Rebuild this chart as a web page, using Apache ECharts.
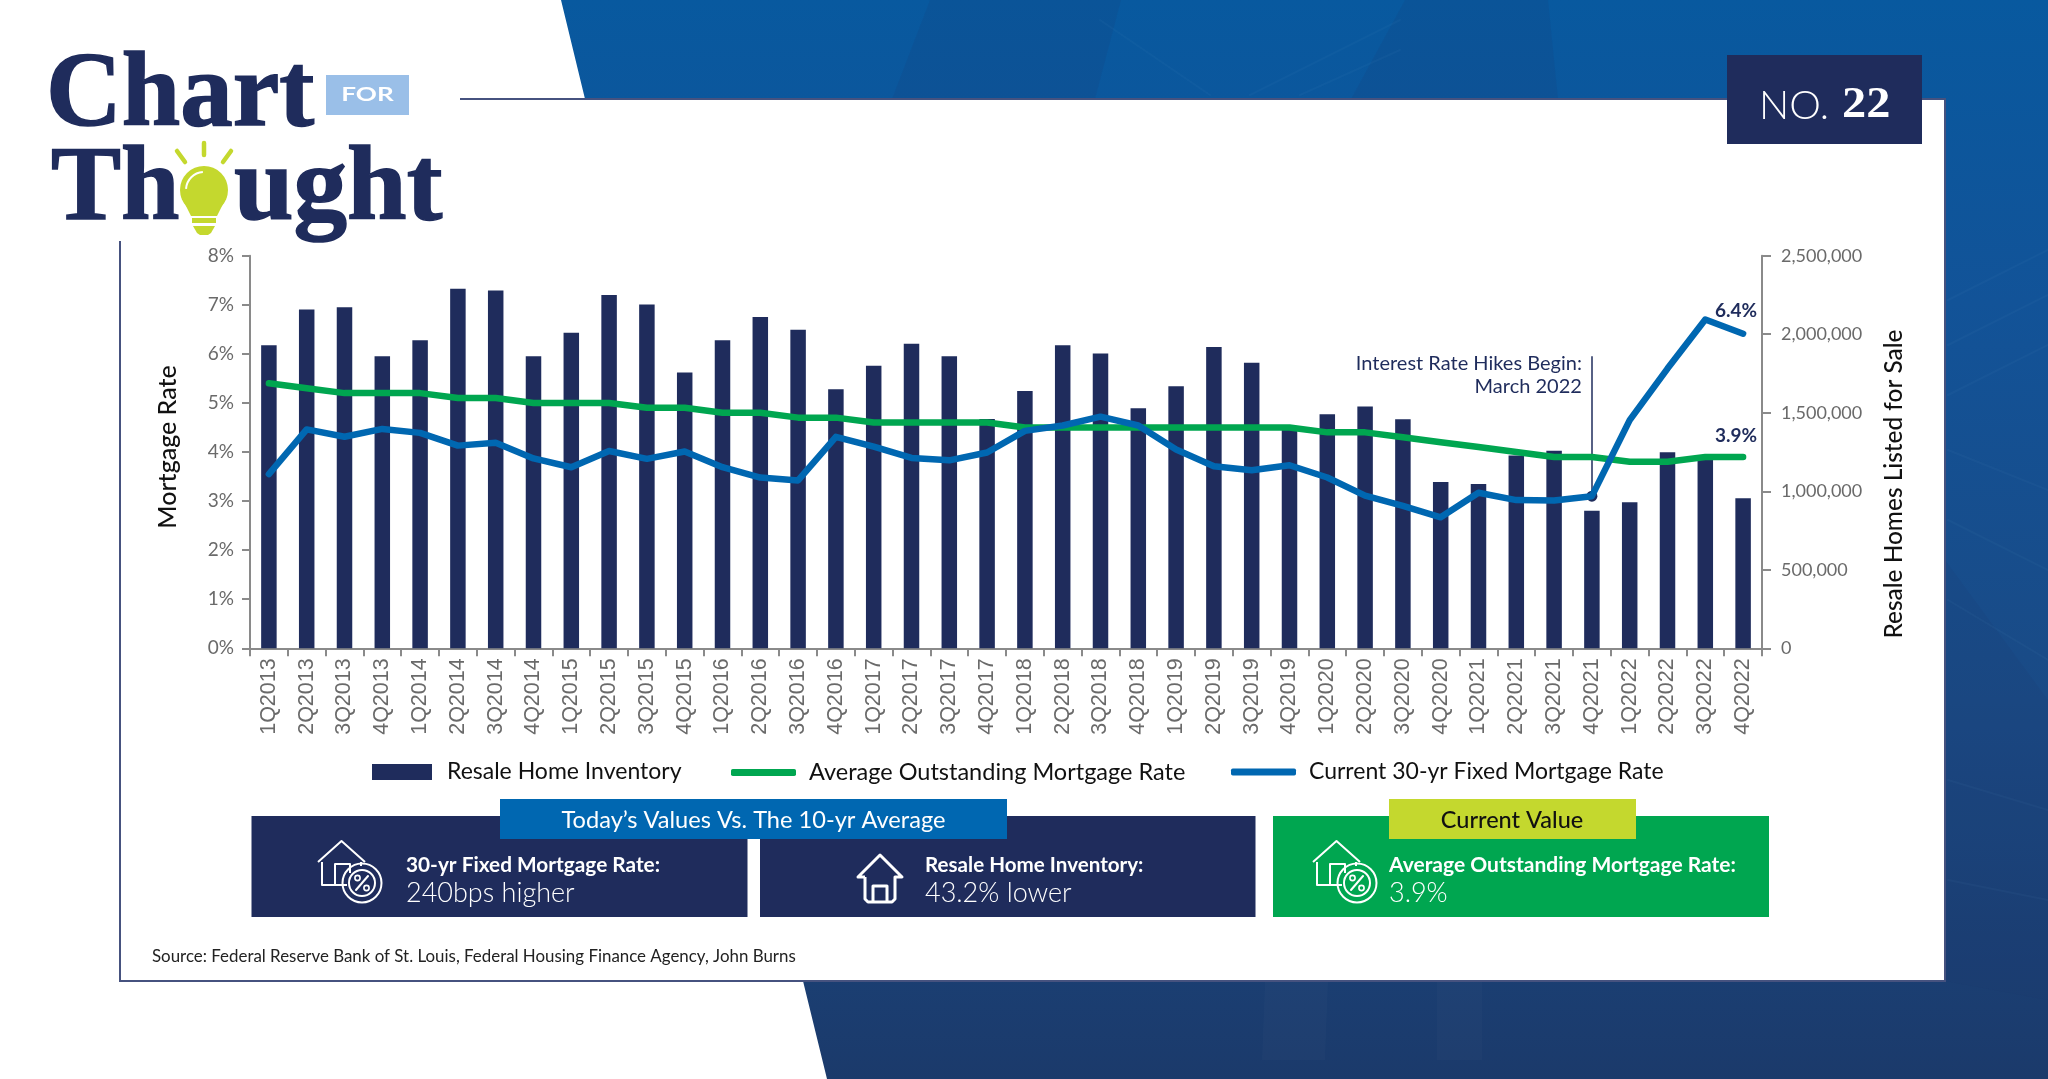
<!DOCTYPE html>
<html>
<head>
<meta charset="utf-8">
<title>Chart for Thought No. 22</title>
<style>html,body{margin:0;padding:0;background:#fff}#chart{width:2048px;height:1079px}</style>
<script src="https://cdn.jsdelivr.net/npm/echarts@6/dist/echarts.min.js"></script>
</head>
<body>
<div id="chart"></div>
<script>
const quarters = ['1Q2013','2Q2013','3Q2013','4Q2013','1Q2014','2Q2014','3Q2014','4Q2014','1Q2015','2Q2015','3Q2015','4Q2015','1Q2016','2Q2016','3Q2016','4Q2016','1Q2017','2Q2017','3Q2017','4Q2017','1Q2018','2Q2018','3Q2018','4Q2018','1Q2019','2Q2019','3Q2019','4Q2019','1Q2020','2Q2020','3Q2020','4Q2020','1Q2021','2Q2021','3Q2021','4Q2021','1Q2022','2Q2022','3Q2022','4Q2022'];
const inventory = [1929000,2158000,2171000,1859000,1961000,2290000,2279000,1859000,2010000,2250000,2190000,1757000,1961000,2110000,2029000,1649000,1800000,1940000,1859000,1460000,1638000,1929000,1878000,1528000,1668000,1919000,1819000,1390000,1490000,1539000,1458000,1059000,1046000,1227000,1258000,876000,930000,1248000,1210000,955000];
const avgRate = [5.4,5.3,5.2,5.2,5.2,5.1,5.1,5.0,5.0,5.0,4.9,4.9,4.8,4.8,4.7,4.7,4.6,4.6,4.6,4.6,4.5,4.5,4.5,4.5,4.5,4.5,4.5,4.5,4.4,4.4,4.3,4.2,4.1,4.0,3.9,3.9,3.8,3.8,3.9,3.9];
const currentRate = [3.55,4.46,4.31,4.47,4.39,4.13,4.19,3.87,3.69,4.02,3.86,4.01,3.69,3.48,3.42,4.31,4.11,3.88,3.83,3.99,4.43,4.54,4.72,4.54,4.05,3.71,3.63,3.73,3.48,3.11,2.90,2.67,3.17,3.02,3.01,3.10,4.65,5.70,6.70,6.41];
const rateTicks = {min:0,max:8,interval:1};
const inventoryTicks = {min:0,max:2500000,interval:500000};
const seriesNames = ['Resale Home Inventory','Average Outstanding Mortgage Rate','Current 30-yr Fixed Mortgage Rate'];

const NAVY='#1f2c5c', BLUE='#0067b1', GREEN='#00a650', LIME='#c4d82e', SKY='#9abfe8', GREY='#6a6a6a', BORDER='#46527f', AXIS='#8a8a8a';
const SANS='Lato', SERIF='"Liberation Serif"';

function txt(x,y,text,size,fill,opt){
  opt=opt||{};
  const style={text:text,x:0,y:0,fontSize:size,fontFamily:opt.font||SANS,fontWeight:opt.weight||'normal',fill:fill,textAlign:opt.align||'left',textVerticalAlign:opt.valign||'middle'};
  if(opt.stroke){style.stroke=fill;style.lineWidth=opt.stroke;}
  return {type:'text',x:x,y:y,z:opt.z||5,scaleX:opt.scaleX||1,silent:true,style:style};
}
function box(x,y,w,h,fill,z){return {type:'rect',z:z||3,silent:true,shape:{x:x,y:y,width:w,height:h},style:{fill:fill}};}
function poly(points,fill,z,smooth){return {type:'polygon',z:z||1,silent:true,shape:{points:points,smooth:smooth||0},style:{fill:fill}};}
function seg(x1,y1,x2,y2,stroke,w,z){return {type:'line',z:z||2,silent:true,shape:{x1:x1,y1:y1,x2:x2,y2:y2},style:{stroke:stroke,lineWidth:w,lineCap:'round'}};}
function stroke(w){return {fill:'none',stroke:'#fff',lineWidth:w||2,lineJoin:'round'};}
function pl(points,w){return {type:'polyline',z:5,silent:true,shape:{points:points},style:stroke(w)};}
function ringOutline(cx,cy,r,w){return {type:'circle',z:5,silent:true,shape:{cx:cx,cy:cy,r:r},style:stroke(w)};}

function percentIcon(tx,ty){
  return {type:'group',x:tx,y:ty,children:[
    pl([[0,22],[23.5,1],[47,22]]),
    pl([[4,22],[4,45],[29,45]]),
    pl([[43,22],[43,26]]),
    pl([[17,45],[17,24],[32,24],[32,33]]),
    ringOutline(44,43,19.5,2),
    ringOutline(44,43,13,2),
    seg(38,50,50,36,'#fff',2,5),
    ringOutline(39.5,38,2.6,1.6),
    ringOutline(48.5,48,2.6,1.6)
  ]};
}
function houseIcon(tx,ty){
  return {type:'group',x:tx,y:ty,children:[
    pl([[9,24],[2,24],[24,2],[46,24],[39,24],[39,46],[36,49],[12,49],[9,46],[9,24]],3),
    pl([[17,49],[17,33],[31,33],[31,49]],3)
  ]};
}

const bgGradient={type:'linear',x:0,y:0,x2:0,y2:1,colorStops:[{offset:0,color:'#08599f'},{offset:.28,color:'#125398'},{offset:.65,color:'#1a4a85'},{offset:1,color:'#1b3a6b'}]};
const shade='rgba(30,55,105,0.13)', glow='rgba(255,255,255,0.02)', hair='rgba(120,170,225,0.05)';

const background=[
  poly([[561,0],[2048,0],[2048,1079],[827,1079],[803,981],[585,99]],bgGradient,0),
  poly([[892,99],[930,0],[1121,0],[1095,99]],shade),
  poly([[1351,99],[1405,0],[1548,0],[1558,99]],shade),
  poly([[1945,560],[2048,700],[2048,1000],[1945,981]],shade),
  poly([[1265,981],[1328,981],[1325,1060],[1262,1060]],glow),
  poly([[1437,981],[1482,981],[1482,1060],[1437,1060]],glow),
  seg(1948,300,2048,250,hair,2), seg(1948,345,2048,295,hair,2), seg(1948,395,2048,345,hair,2),
  seg(1948,450,2048,490,hair,2), seg(1948,520,2048,570,hair,2), seg(1948,600,2048,660,hair,2),
  seg(1948,780,2048,810,hair,2), seg(1948,880,2048,900,hair,2),
  seg(1100,20,1210,95,hair,2), seg(1250,95,1400,20,hair,2), seg(1300,95,1400,50,hair,2),
  box(120,99,1825,882,'#ffffff',2),
  box(460,98,1485,2,BORDER,2),
  box(1944,98,2,884,BORDER,2),
  box(119,241,2,741,BORDER,2),
  box(119,980,1827,2,BORDER,2)
];

const logoOpt={font:SERIF,weight:'bold',valign:'bottom',z:6,stroke:1.5};
const logo=[
  txt(46,150,'Chart',105,NAVY,logoOpt),
  box(326,75,83,40,SKY,5),
  txt(367.5,95,'FOR',18,'#ffffff',{align:'center',weight:'bold',scaleX:1.45,z:6}),
  txt(51,244.5,'Th',105,NAVY,logoOpt),
  txt(234,244.5,'ught',105,NAVY,Object.assign({scaleX:1.02},logoOpt)),
  {type:'circle',z:6,silent:true,shape:{cx:204,cy:190,r:24},style:{fill:LIME}},
  poly([[181,196],[227,196],[217,216],[191,216]],LIME,6),
  box(192,218,24,5,LIME,6),
  poly([[193,226],[215,226],[211,233],[208,235],[200,235],[197,233]],LIME,6),
  seg(204,143,204,155,LIME,4.5,6),
  seg(177,151,185,162,LIME,4.5,6),
  seg(231,151,223,162,LIME,4.5,6),
  {type:'arc',z:7,silent:true,shape:{cx:204,cy:190,r:18,startAngle:Math.PI*1.02,endAngle:Math.PI*1.48,clockwise:true},style:{stroke:'#ffffff',lineWidth:2,fill:'none'}},
  box(1727,55,195,89,NAVY,6),
  txt(1759,106,'NO.',40,'#ffffff',{weight:300,z:7}),
  txt(1842,106,'22',44,'#ffffff',{font:SERIF,weight:'bold',scaleX:1.1,z:7})
];

const panels=[
  box(251.5,816,496,101,NAVY),
  box(760,816,495.5,101,NAVY),
  box(1273,816,496,101,GREEN),
  box(500,799,507,40,BLUE,4),
  box(1389,799,247,40,LIME,4),
  txt(753.5,820,"Today\u2019s Values Vs. The 10-yr Average",23.6,'#ffffff',{align:'center'}),
  txt(1512,820,'Current Value',23.5,'#111111',{align:'center',weight:500}),
  percentIcon(318,840),
  houseIcon(856,853),
  percentIcon(1313,840),
  txt(406,865,'30-yr Fixed Mortgage Rate:',20.8,'#ffffff',{weight:'bold'}),
  txt(406,893,'240bps higher',27,'#ffffff',{weight:300}),
  txt(925,865,'Resale Home Inventory:',20.6,'#ffffff',{weight:'bold'}),
  txt(925,893,'43.2% lower',27,'#ffffff',{weight:300}),
  txt(1389,865,'Average Outstanding Mortgage Rate:',21,'#ffffff',{weight:'bold'}),
  txt(1389,893,'3.9%',27,'#ffffff',{weight:300}),
  txt(152,957,'Source: Federal Reserve Bank of St. Louis, Federal Housing Finance Agency, John Burns',16.9,'#222222')
];

function legendFor(name,left,width,height,icon,pad,size){
  return {left:left,top:760.5,itemWidth:width,itemHeight:height,icon:icon,selectedMode:false,padding:0,z:6,
    data:[{name:name}],
    textStyle:{fontSize:size,color:'#111',fontFamily:SANS,padding:[0,0,0,pad]}};
}

const option={
  animation:false,
  backgroundColor:'#ffffff',
  textStyle:{fontFamily:SANS},
  graphic:{elements:background.concat(logo,panels)},
  grid:{left:250,right:286,top:255.7,bottom:430.7,containLabel:false},
  legend:[
    legendFor(seriesNames[0],372,60,16,'rect',10,23),
    legendFor(seriesNames[1],731,65,7,'roundRect',8,23.5),
    legendFor(seriesNames[2],1231,65,7,'roundRect',8,23)
  ],
  xAxis:{
    type:'category',data:quarters,z:3,
    axisLine:{lineStyle:{color:AXIS,width:2}},
    axisTick:{show:true,interval:0,length:8,lineStyle:{color:AXIS,width:2}},
    axisLabel:{interval:0,rotate:90,fontSize:21.5,fontFamily:'"Liberation Sans"',color:GREY,margin:10}
  },
  yAxis:[
    {type:'value',z:3,min:rateTicks.min,max:rateTicks.max,interval:rateTicks.interval,splitLine:{show:false},
     name:'Mortgage Rate',nameLocation:'middle',nameRotate:90,nameGap:70,
     nameTextStyle:{fontSize:25,color:'#111',fontFamily:SANS,fontWeight:500,padding:[0,0,0,10]},
     axisLine:{show:true,lineStyle:{color:AXIS,width:2}},axisTick:{show:true,length:8,lineStyle:{color:AXIS,width:2}},
     axisLabel:{formatter:'{value}%',fontSize:19,color:GREY,margin:16,fontFamily:SANS,padding:[2,0,0,0]}},
    {type:'value',z:3,position:'right',min:inventoryTicks.min,max:inventoryTicks.max,interval:inventoryTicks.interval,splitLine:{show:false},
     name:'Resale Homes Listed for Sale',nameLocation:'middle',nameRotate:90,nameGap:120,
     nameTextStyle:{fontSize:24.4,color:'#111',fontFamily:SANS,fontWeight:500,padding:[0,64,0,0]},
     axisLine:{show:true,lineStyle:{color:AXIS,width:2}},axisTick:{show:true,length:9,lineStyle:{color:AXIS,width:2}},
     axisLabel:{formatter:v=>v.toLocaleString('en-US'),fontSize:18,color:GREY,margin:19,fontFamily:SANS,padding:[2,0,0,0]}}
  ],
  series:[
    {name:seriesNames[0],type:'bar',z:4,yAxisIndex:1,data:inventory,barWidth:15.5,itemStyle:{color:NAVY}},
    {name:seriesNames[1],type:'line',z:5,yAxisIndex:0,data:avgRate,symbol:'none',itemStyle:{color:GREEN},
     lineStyle:{color:GREEN,width:6.5,cap:'round',join:'round'},
     markPoint:{silent:true,symbol:'circle',symbolSize:0,
       data:[{coord:[quarters[39],avgRate[39]],value:'3.9%',label:{show:true,formatter:'3.9%',position:'inside',offset:[-7,-21],fontSize:19,fontWeight:'bold',color:NAVY,fontFamily:SANS}}]}},
    {name:seriesNames[2],type:'line',z:6,yAxisIndex:0,data:currentRate,symbol:'none',itemStyle:{color:BLUE},
     lineStyle:{color:BLUE,width:6.5,cap:'round',join:'round'},
     markLine:{silent:true,symbol:'none',animation:false,label:{show:false},lineStyle:{color:NAVY,width:1.5,type:'solid'},
       data:[[{coord:[quarters[35],currentRate[35]]},{coord:[quarters[35],5.95]}]]},
     markPoint:{silent:true,animation:false,data:[
       {coord:[quarters[35],currentRate[35]],symbol:'circle',symbolSize:11,itemStyle:{color:NAVY},label:{show:false}},
       {coord:[quarters[39],6.4],symbol:'circle',symbolSize:0,label:{show:true,formatter:'6.4%',position:'inside',offset:[-7,-23],fontSize:19,fontWeight:'bold',color:NAVY,fontFamily:SANS}},
       {coord:[quarters[35],5.95],symbol:'circle',symbolSize:0,label:{show:true,formatter:'Interest Rate Hikes Begin:\nMarch 2022',position:'left',distance:10,align:'right',offset:[0,18.5],lineHeight:23,fontSize:20,color:NAVY,fontFamily:SANS}}
     ]}}
  ]
};
const chart=echarts.init(document.getElementById('chart'),null,{renderer:'canvas',width:2048,height:1079});
chart.setOption(option);
</script>
</body>
</html>
